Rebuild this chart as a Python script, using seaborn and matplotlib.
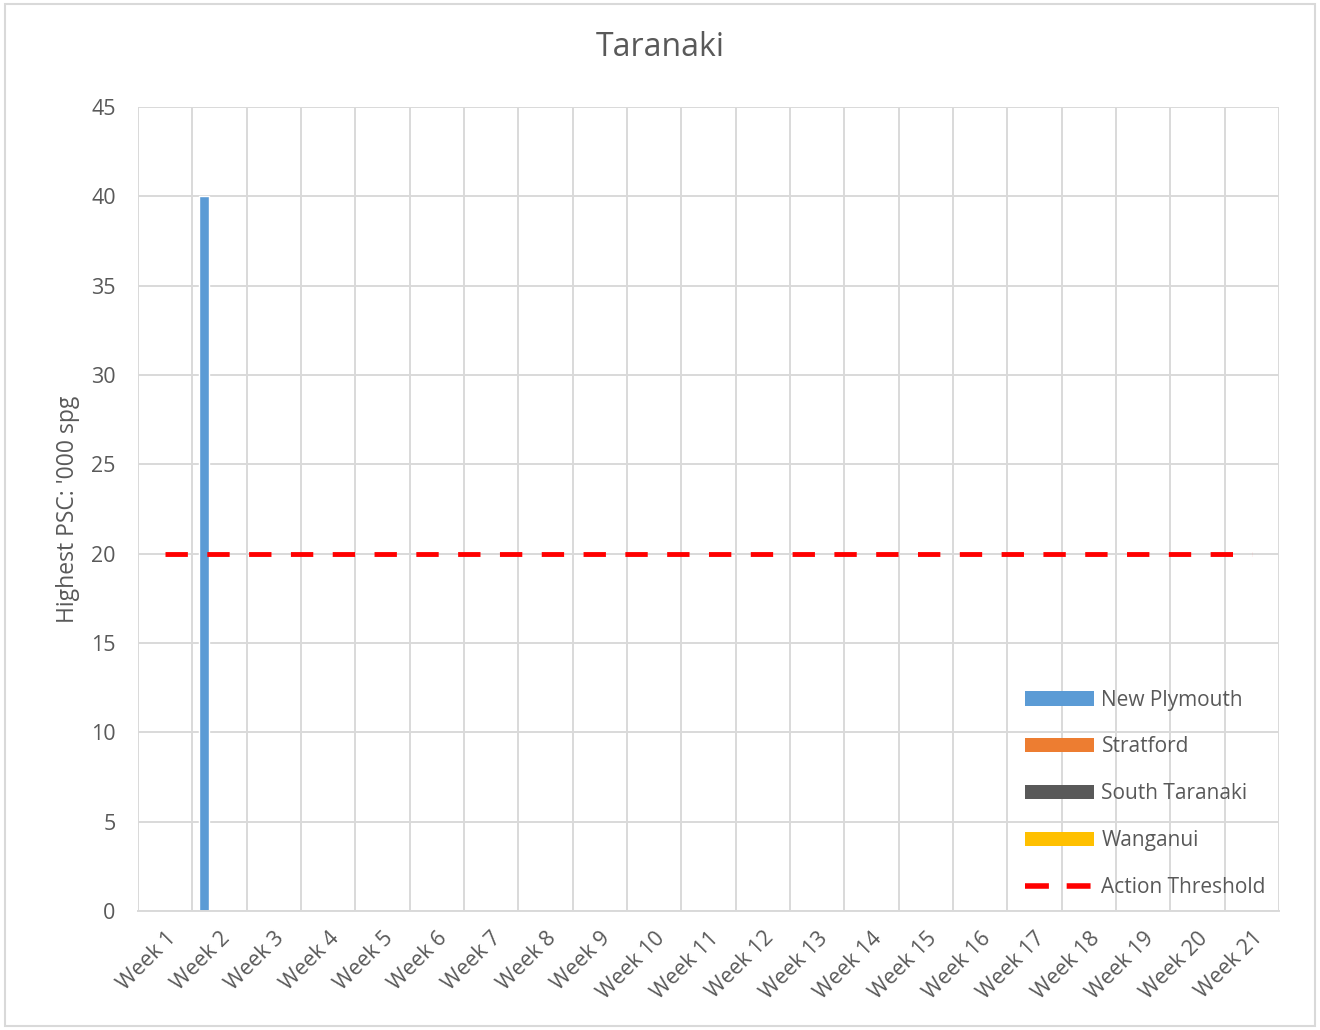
import numpy as np
import pandas as pd
import matplotlib
matplotlib.use("Agg")
import matplotlib.pyplot as plt
from matplotlib.patches import Rectangle, Patch
from matplotlib.lines import Line2D
import seaborn as sns

weeks = [f"Week {i}" for i in range(1, 22)]
regions = ["New Plymouth", "Stratford", "South Taranaki", "Wanganui"]
new_plymouth = [np.nan, 40] + [np.nan] * 19
stratford = [np.nan] * 21
south_taranaki = [np.nan] * 21
wanganui = [np.nan] * 21
threshold = [20] * 21
colors = ["#5B9BD5", "#ED7D31", "#595959", "#FFC000"]

rows = []
for reg, vals in zip(regions, [new_plymouth, stratford, south_taranaki, wanganui]):
    for w, v in zip(weeks, vals):
        rows.append({"Week": w, "Region": reg, "Value": v})
df = pd.DataFrame(rows)
df_thr = pd.DataFrame({"Week": weeks, "Value": threshold, "x": np.arange(len(weeks))})

sns.set_theme(style="white")
plt.rcParams["font.family"] = ["Open Sans", "DejaVu Sans"]

fig = plt.figure(figsize=(13.2, 10.3), dpi=100)
ax = fig.add_axes([0.1045, 0.1155, 0.969 - 0.1045, 0.896 - 0.1155])

sns.barplot(data=df, x="Week", y="Value", hue="Region", order=weeks,
            hue_order=regions, palette=colors, width=0.737, ax=ax,
            legend=False, errorbar=None, saturation=1)
sns.lineplot(data=df_thr, x="x", y="Value", ax=ax, color="#FF0000",
             linewidth=3.5, dashes=False, legend=False, zorder=5)
ax.lines[-1].set_dashes([4.6, 4.0])

ax.set_xlim(-0.5, 20.5)
ax.set_ylim(0, 45)
ax.set_yticks(np.arange(0, 46, 5))
ax.set_xticks(np.arange(21))
ax.set_xticks(np.arange(-0.5, 21, 1), minor=True)
ax.grid(False)
ax.grid(axis="y", which="major", color="#D9D9D9", linewidth=1.4)
ax.grid(axis="x", which="minor", color="#D9D9D9", linewidth=1.4)
ax.set_axisbelow(True)
for s in ["top", "right", "left"]:
    ax.spines[s].set_visible(False)
ax.spines["bottom"].set_color("#D9D9D9")
ax.spines["bottom"].set_linewidth(1.4)
ax.tick_params(axis="both", which="both", length=0, labelsize=15.5, labelcolor="#595959")
ax.tick_params(axis="y", pad=16)
ax.tick_params(axis="x", pad=12)
ax.set_xticklabels(weeks, rotation=45, ha="right", rotation_mode="anchor")
ax.set_xlabel("")
ax.set_ylabel("Highest PSC: '000 spg", fontsize=16.5, color="#595959", labelpad=8)
fig.text(0.5, 1 - 48 / 1030, "Taranaki", fontsize=23, color="#595959",
         ha="center", va="center")

handles = [Patch(facecolor=c, edgecolor="none") for c in colors]
handles.append(Line2D([0], [0], color="#FF0000", linewidth=4, dashes=[4.3, 3.2]))
leg = ax.legend(handles, regions + ["Action Threshold"], loc="lower right",
                bbox_to_anchor=(1.003, -0.0045), frameon=False, fontsize=15,
                handlelength=3.3, handleheight=0.7, labelspacing=1.24,
                handletextpad=0.35, borderaxespad=0.4)
for t in leg.get_texts():
    t.set_color("#595959")

fig.patches.append(Rectangle((0.004, 0.004), 0.992, 0.992, transform=fig.transFigure,
                             fill=False, edgecolor="#D9D9D9", linewidth=1.5))

fig.savefig("out.png", dpi=100)
